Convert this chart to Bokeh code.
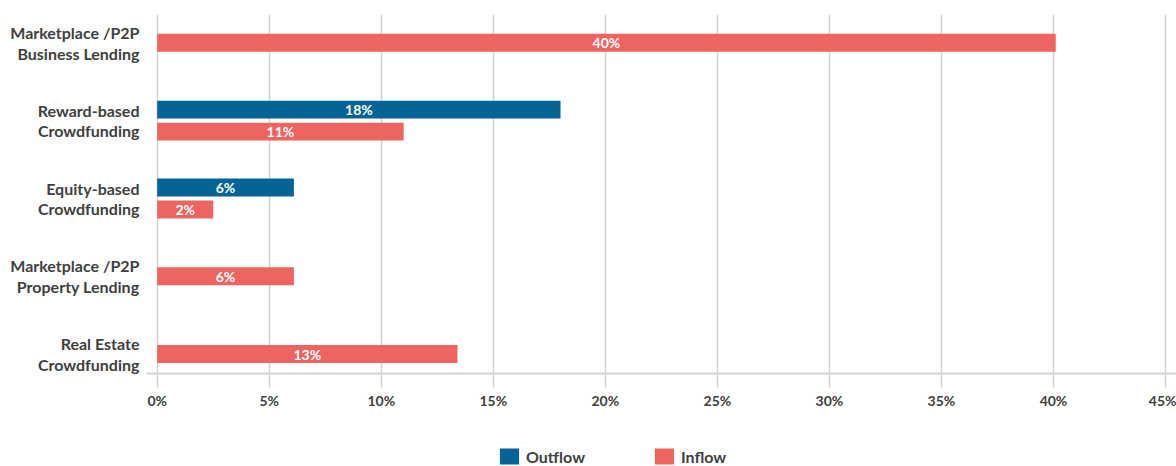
from bokeh.plotting import figure
from bokeh.layouts import column
from bokeh.models import (ColumnDataSource, Range1d, FixedTicker, PrintfTickFormatter,
                          Legend, LegendItem, LabelSet)
from bokeh.core.properties import value
from bokeh.embed import file_html
from bokeh.resources import INLINE

# ---- data ----
categories = [
    "Marketplace /P2P\nBusiness Lending",
    "Reward-based\nCrowdfunding",
    "Equity-based\nCrowdfunding",
    "Marketplace /P2P\nProperty Lending",
    "Real Estate\nCrowdfunding",
]
outflow = [None, 18.0, 6.1, None, None]
inflow = [40.1, 11.0, 2.5, 6.1, 13.4]
x_ticks = [0, 5, 10, 15, 20, 25, 30, 35, 40, 45]
series_names = ["Outflow", "Inflow"]

# ---- style ----
OUT_COLOR = "#046496"
IN_COLOR = "#ee6461"
TEXT = "#404040"
GRID = "#d2d2d2"
FONT = "Lato"
BAR_H = 0.231
OFFSET = 0.1414


def build(values, other, sign):
    d = dict(y=[], v=[], mid=[], lab=[])
    for i, (v, o) in enumerate(zip(values, other)):
        if v is None:
            continue
        y = i + sign * OFFSET if o is not None else i
        d["y"].append(y)
        d["v"].append(v)
        d["mid"].append(v / 2)
        d["lab"].append(f"{v:.0f}%")
    return ColumnDataSource(d)


src_out = build(outflow, inflow, -1)
src_in = build(inflow, outflow, +1)

p = figure(width=1176, height=430, output_backend="svg", toolbar_location=None,
           x_range=Range1d(-0.478, 45.49), y_range=Range1d(4.25, -0.364),
           min_border_left=146, min_border_right=0, min_border_top=14,
           min_border_bottom=57)
p.outline_line_color = None
p.background_fill_color = "white"
p.border_fill_color = "white"

r_out = p.hbar(y="y", right="v", left=0, height=BAR_H, source=src_out,
               fill_color=OUT_COLOR, line_color=None)
r_in = p.hbar(y="y", right="v", left=0, height=BAR_H, source=src_in,
              fill_color=IN_COLOR, line_color=None)

for src in (src_out, src_in):
    p.add_layout(LabelSet(x="mid", y="y", text="lab", source=src,
                          text_align="center", text_baseline="middle",
                          text_color="white", text_font=value(FONT),
                          text_font_style="bold", text_font_size="14px"))

# grid
p.ygrid.grid_line_color = None
p.xgrid.ticker = FixedTicker(ticks=x_ticks)
p.xgrid.grid_line_color = GRID
p.xgrid.grid_line_width = 1.5

# x axis
xa = p.xaxis[0]
xa.ticker = FixedTicker(ticks=x_ticks)
xa.formatter = PrintfTickFormatter(format="%d%%")
xa.axis_line_color = GRID
xa.axis_line_width = 2
xa.major_tick_line_color = GRID
xa.major_tick_line_width = 1.5
xa.major_tick_out = 14
xa.major_tick_in = 0
xa.minor_tick_line_color = None
xa.major_label_standoff = 4
xa.major_label_text_font = FONT
xa.major_label_text_font_style = "bold"
xa.major_label_text_font_size = "14px"
xa.major_label_text_color = TEXT

# y axis
ya = p.yaxis[0]
ya.ticker = FixedTicker(ticks=list(range(len(categories))))
ya.major_label_overrides = {i: c for i, c in enumerate(categories)}
ya.axis_line_color = None
ya.major_tick_line_color = None
ya.minor_tick_line_color = None
ya.major_tick_out = 0
ya.major_tick_in = 0
ya.major_label_standoff = 7
ya.major_label_text_font = FONT
ya.major_label_text_font_style = "bold"
ya.major_label_text_font_size = "16px"
ya.major_label_text_color = TEXT
ya.major_label_text_line_height = 1.08

# ---- legend strip (frame aligned with the chart frame) ----
leg = figure(width=1176, height=36, output_backend="svg", toolbar_location=None,
             x_axis_type=None, y_axis_type=None, min_border=0,
             x_range=Range1d(0, 1), y_range=Range1d(0, 1))
leg.outline_line_color = None
leg.grid.grid_line_color = None
swatch = dict(y=[-10], v=[0])  # off-range swatch rows: only the legend shows them
l_out = leg.hbar(y="y", right="v", left=0, height=1, source=ColumnDataSource(swatch),
                 fill_color=OUT_COLOR, line_color=None)
l_in = leg.hbar(y="y", right="v", left=0, height=1, source=ColumnDataSource(swatch),
                fill_color=IN_COLOR, line_color=None)
legend = Legend(items=[LegendItem(label=series_names[0], renderers=[l_out]),
                       LegendItem(label=series_names[1], renderers=[l_in])],
                orientation="horizontal", location=(351, 0),
                glyph_width=24, glyph_height=20, label_standoff=5,
                spacing=67, padding=0, margin=0,
                label_text_font=FONT, label_text_font_style="bold",
                label_text_font_size="16px", label_text_color=TEXT,
                label_height=20, border_line_color=None,
                background_fill_alpha=0)
leg.add_layout(legend, "center")

layout = column(p, leg, spacing=0)
open("out.html", "w").write(file_html(layout, INLINE))
